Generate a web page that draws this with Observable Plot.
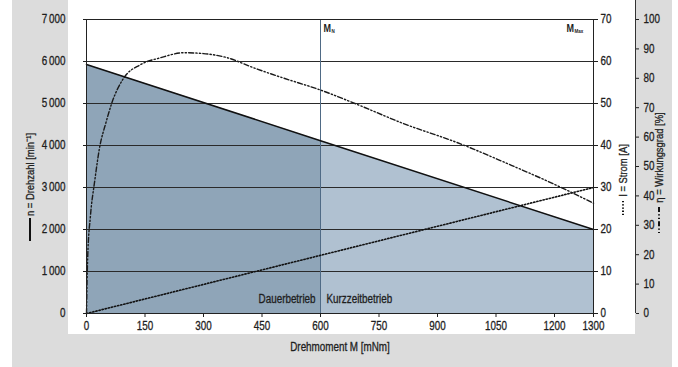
<!DOCTYPE html>
<html>
<head>
<meta charset="utf-8">
<script src="https://cdn.jsdelivr.net/npm/d3@7"></script>
<script src="https://cdn.jsdelivr.net/npm/@observablehq/plot@0.6"></script>
<style>
  html, body { margin: 0; padding: 0; background: #ffffff; }
  #wrap { position: relative; width: 678px; height: 367px; overflow: hidden; }
  .gray { position: absolute; left: 12px; top: 0; width: 660px; height: 367px; background: #dcdcdc; }
  .white { position: absolute; left: 68px; top: 0; width: 567px; height: 334px; background: #ffffff; }
  #chart { position: absolute; left: 0; top: 0; }
</style>
</head>
<body>
<div id="wrap"><div class="gray"></div><div class="white"></div><div id="chart"></div></div>
<script>
// ---- data ----
const speedTorque = [0, 600, 1300];          // mNm
const speedValues = [5930, 4115, 2000];      // min^-1
const currentTorque = [0, 1300];             // mNm
const currentValues = [0, 30];               // A
const etaTorque = [0, 1, 3, 10, 21, 33, 50, 66, 95, 138, 190, 250, 300, 361, 428, 500, 600, 700, 805, 959, 1079, 1215, 1300];
const etaValues = [0, 8, 19, 33, 45, 56, 65, 72, 80, 84.6, 87, 88.7, 88.4, 87, 83.6, 80.3, 76, 70.8, 65, 57.7, 51, 43, 37.5];
const xTicks = [0, 150, 300, 450, 600, 750, 900, 1050, 1200, 1300];
const speedTicks = [0, 1000, 2000, 3000, 4000, 5000, 6000, 7000];
const currentTicks = [0, 10, 20, 30, 40, 50, 60, 70];
const etaTicks = [0, 10, 20, 30, 40, 50, 60, 70, 80, 90, 100];
const ratedTorque = 600;
const maxTorque = 1300;
const labels = {
  x: "Drehmoment M [mNm]",
  speed: "n = Drehzahl [min\u207B\u00B9]",
  current: "I = Strom [A]",
  eta: "\u03B7 = Wirkungsgrad [%]",
  cont: "Dauerbetrieb",
  short: "Kurzzeitbetrieb"
};

// ---- scaling of secondary series onto the speed axis ----
const CUR = 100;  // 70 A  <-> 7000
const ETA = 70;   // 100 % <-> 7000

const speed = speedTorque.map((m, i) => ({m, n: speedValues[i]}));
const current = currentTorque.map((m, i) => ({m, v: currentValues[i] * CUR}));
const eta = etaTorque.map((m, i) => ({m, v: etaValues[i] * ETA}));

const F = "'Liberation Sans', Arial, sans-serif";
const ink = "#1e1e1e";
const etaDash = "5,2.2,1.3,2.2,1.3,2.2";

const plot = Plot.plot({
  width: 678,
  height: 367,
  marginLeft: 86,
  marginRight: 85,
  marginTop: 19,
  marginBottom: 54,
  style: {fontFamily: F, fontSize: "12px", color: ink, background: "transparent"},
  x: {domain: [0, 1300]},
  y: {domain: [0, 7000]},
  marks: [
    Plot.areaY(speed.slice(0, 2), {x: "m", y: "n", fill: "#8fa5b8"}),
    Plot.areaY(speed.slice(1, 3), {x: "m", y: "n", fill: "#b0c1d1"}),
    Plot.ruleY(speedTicks.slice(1, -1), {stroke: "#2a2a2a", strokeWidth: 1}),
    Plot.ruleX([ratedTorque], {stroke: "#4f6a85", strokeWidth: 1}),
    Plot.line(current, {x: "m", y: "v", stroke: "#111", strokeWidth: 1.6, strokeDasharray: "1.3,1.9"}),
    Plot.line(eta, {x: "m", y: "v", stroke: "#1a1a1a", strokeWidth: 1.4, curve: "monotone-x", strokeDasharray: etaDash}),
    Plot.line(speed, {x: "m", y: "n", stroke: "#111", strokeWidth: 1.5}),
    Plot.frame({stroke: "#222", strokeWidth: 1}),
    // axes
    Plot.axisX({ticks: xTicks, tickSize: 4, tickPadding: 4, label: null, tickFormat: d => String(d)}),
    Plot.axisY({anchor: "left", ticks: speedTicks, tickSize: 3, tickPadding: 18, label: null,
      tickFormat: d => d === 0 ? "0" : `${d / 1000}\u2009000`}),
    Plot.axisY({anchor: "right", ticks: currentTicks.map(d => d * CUR), tickSize: 4, tickPadding: 3, label: null,
      tickFormat: d => String(Math.round(d / CUR))}),
    Plot.ruleX([maxTorque], {dx: 42, insetTop: -19, stroke: "#333", strokeWidth: 1}),
    Plot.axisY({anchor: "right", dx: 42, ticks: etaTicks.map(d => d * ETA), tickSize: 3, tickPadding: 5, label: null,
      tickFormat: d => String(Math.round(d / ETA))}),
    // titles
    Plot.text([labels.x], {frameAnchor: "bottom", dy: 37, fontSize: 12, fill: ink}),
    Plot.text([labels.speed], {frameAnchor: "left", textAnchor: "middle", dx: -56, dy: 8, rotate: -90, fontSize: 11.5, fill: ink}),
    Plot.text([labels.current], {frameAnchor: "right", textAnchor: "middle", dx: 30, dy: 4, rotate: -90, fontSize: 11.5, fill: ink}),
    Plot.text([labels.eta], {frameAnchor: "right", textAnchor: "middle", dx: 66, dy: -9, rotate: -90, fontSize: 11.5, fill: ink}),
    // operating regions
    Plot.text([{m: ratedTorque}], {x: "m", text: () => labels.cont, frameAnchor: "bottom", dx: -5, dy: -11, textAnchor: "end", fontSize: 12, fill: ink}),
    Plot.text([{m: ratedTorque}], {x: "m", text: () => labels.short, frameAnchor: "bottom", dx: 6, dy: -11, textAnchor: "start", fontSize: 12, fill: ink}),
    // M_N and M_Max
    Plot.text([{m: ratedTorque}], {x: "m", text: () => "M", frameAnchor: "top", dx: 3, dy: 5, textAnchor: "start", fontSize: 11, fontWeight: "bold", fill: ink}),
    Plot.text([{m: ratedTorque}], {x: "m", text: () => "N", frameAnchor: "top", dx: 11, dy: 10, textAnchor: "start", fontSize: 5.5, fontWeight: "bold", fill: ink}),
    Plot.text([{m: maxTorque}], {x: "m", text: () => "M", frameAnchor: "top", dx: -27, dy: 5, textAnchor: "start", fontSize: 11, fontWeight: "bold", fill: ink}),
    Plot.text([{m: maxTorque}], {x: "m", text: () => "Max", frameAnchor: "top", dx: -19, dy: 10, textAnchor: "start", fontSize: 5.5, fontWeight: "bold", fill: ink})
  ]
});

// legend symbols next to the rotated axis titles
const svg = d3.select(plot);
svg.append("line").attr("x1", 30).attr("x2", 30).attr("y1", 218).attr("y2", 241)
  .attr("stroke", "#111").attr("stroke-width", 2);
svg.append("line").attr("x1", 623).attr("x2", 623).attr("y1", 201).attr("y2", 216)
  .attr("stroke", "#111").attr("stroke-width", 2).attr("stroke-dasharray", "1.3,1.9");
svg.append("line").attr("x1", 659).attr("x2", 659).attr("y1", 207).attr("y2", 233)
  .attr("stroke", "#111").attr("stroke-width", 2).attr("stroke-dasharray", etaDash);

document.getElementById("chart").appendChild(plot);

// condense Arial-metric glyphs to emulate the narrow face used by the reference
plot.querySelectorAll("text").forEach(t => {
  const L = t.getComputedTextLength();
  if (L > 0) {
    t.setAttribute("textLength", (L * 0.82).toFixed(2));
    t.setAttribute("lengthAdjust", "spacingAndGlyphs");
    if (getComputedStyle(t).fontWeight < 600) {
      t.setAttribute("stroke", ink);
      t.setAttribute("stroke-width", "0.3");
    }
  }
});
</script>
</body>
</html>
